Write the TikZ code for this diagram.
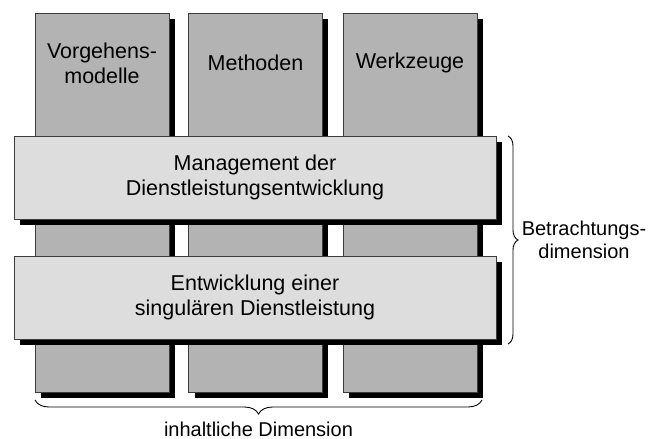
\documentclass[tikz,border=0pt]{standalone}
\usepackage{fontspec}
\setmainfont{Liberation Sans}
\usetikzlibrary{decorations.pathreplacing}
\definecolor{colfill}{RGB}{179,179,179}
\definecolor{barfill}{RGB}{221,221,221}
\definecolor{rimcolor}{RGB}{60,60,60}
\begin{document}
\begin{tikzpicture}[x=1pt,y=-1pt,
  pillar/.style={draw=rimcolor,line width=0.8pt,fill=colfill,
    minimum width=134pt,minimum height=379pt,inner sep=0pt,outer sep=0pt},
  layer/.style={draw=rimcolor,line width=0.8pt,fill=barfill,
    minimum width=482pt,minimum height=83pt,inner sep=0pt,outer sep=0pt,
    align=center,font=\fontsize{21.5}{25}\selectfont},
  hardshade/.style={fill=black},
  pillartext/.style={align=center,font=\fontsize{21.5}{25}\selectfont},
  sidetext/.style={align=center,font=\fontsize{20}{23}\selectfont},
  bracket/.style={draw=black,line width=0.9pt,decorate}]
\useasboundingbox (0,0) rectangle (648,439);

% hard shadows of the three pillars
\fill[hardshade] (41,19) rectangle (175,398);
\fill[hardshade] (195,19) rectangle (328,398);
\fill[hardshade] (349,19) rectangle (483,398);

% three pillars of the content dimension
\node[pillar] (p1) at (102,202.5) {};
\node[pillar] (p2) at (255.5,202.5) {};
\node[pillar] (p3) at (410,202.5) {};
\node[pillartext] (t1) at (102,63) {Vorgehens-\\modelle};
\node[pillartext] (t2) at (255.5,63) {Methoden};
\node[pillartext] (t3) at (410,63) {Werkzeuge};

% hard shadows of the two layers
\fill[hardshade] (20,142) rectangle (502,225);
\fill[hardshade] (20,262) rectangle (502,345);

% two horizontal layers of the viewing dimension
\node[layer] (l1) at (255,177.5) {Management der\\Dienstleistungsentwicklung};
\node[layer] (l2) at (255,297.5) {Entwicklung einer\\singulären Dienstleistung};

% braces with their labels
\coordinate (rb1) at (508,136);
\coordinate (rb2) at (508,344);
\draw[bracket,decoration={brace,amplitude=10pt}] (rb1) -- (rb2);
\node[sidetext] (bt) at (584,240) {Betrachtungs-\\dimension};

\coordinate (bb1) at (482,400);
\coordinate (bb2) at (35,400);
\draw[bracket,decoration={brace,amplitude=14pt}] (bb1) -- (bb2);
\node[sidetext,anchor=base,inner ysep=0pt] (it) at (258.5,436) {inhaltliche Dimension};
\end{tikzpicture}
\end{document}
